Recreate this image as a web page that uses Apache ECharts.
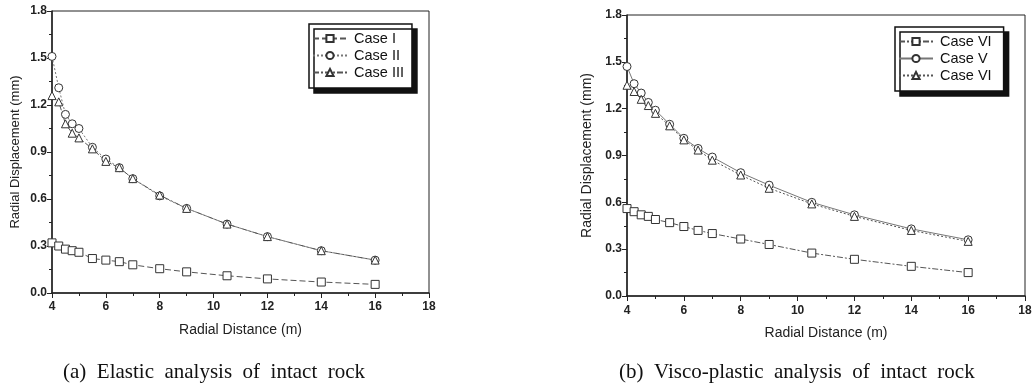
<!DOCTYPE html>
<html>
<head>
<meta charset="utf-8">
<script src="https://cdn.jsdelivr.net/npm/echarts@6/dist/echarts.min.js"></script>
<style>
  html, body { margin: 0; padding: 0; background: #fff; }
  #chart { width: 1036px; height: 387px; }
</style>
</head>
<body>
<div id="chart"></div>
<script>
// radial distance (m) of the computed points
const radialDistance = [4, 4.25, 4.5, 4.75, 5, 5.5, 6, 6.5, 7, 8, 9, 10.5, 12, 14, 16];

// (a) elastic analysis
const caseI   = [0.32, 0.30, 0.28, 0.27, 0.26, 0.22, 0.21, 0.20, 0.18, 0.155, 0.135, 0.11, 0.09, 0.07, 0.055];
const caseII  = [1.51, 1.31, 1.14, 1.08, 1.05, 0.93, 0.855, 0.80, 0.73, 0.62, 0.54, 0.44, 0.36, 0.27, 0.21];
const caseIII = [1.26, 1.22, 1.08, 1.02, 0.99, 0.92, 0.84, 0.80, 0.73, 0.625, 0.54, 0.44, 0.36, 0.27, 0.21];

// (b) visco-plastic analysis
const caseVIa = [0.56, 0.54, 0.52, 0.51, 0.49, 0.47, 0.445, 0.42, 0.40, 0.365, 0.33, 0.275, 0.235, 0.19, 0.15];
const caseV   = [1.47, 1.36, 1.30, 1.24, 1.19, 1.10, 1.01, 0.945, 0.89, 0.79, 0.71, 0.60, 0.52, 0.43, 0.36];
const caseVIb = [1.35, 1.31, 1.26, 1.22, 1.17, 1.09, 1.00, 0.935, 0.87, 0.775, 0.69, 0.59, 0.51, 0.42, 0.35];

const captions = ['(a)  Elastic  analysis  of  intact  rock', '(b)  Visco-plastic  analysis  of  intact  rock'];

const pairs = (ys) => radialDistance.map((x, i) => [x, ys[i]]);

const ink = '#222';
const lineGrey = '#555';

function xAxisFor(gridIndex, gap, labelMargin) {
  return {
    type: 'value', gridIndex, min: 4, max: 18, interval: 2,
    name: 'Radial Distance (m)', nameLocation: 'middle', nameGap: gap,
    nameTextStyle: { fontFamily: 'Liberation Sans', fontSize: 14, color: ink },
    axisLine: { lineStyle: { color: ink, width: 1.5 } },
    axisTick: { length: 5, lineStyle: { color: ink } },
    minorTick: { show: true, splitNumber: 2, length: 3, lineStyle: { color: ink } },
    axisLabel: { fontFamily: 'Liberation Sans', fontWeight: 'bold', fontSize: 12, color: ink, margin: labelMargin },
    splitLine: { show: false }
  };
}

function yAxisFor(gridIndex, gap, nameSize) {
  return {
    type: 'value', gridIndex, min: 0, max: 1.8, interval: 0.3,
    name: 'Radial Displacement (mm)', nameLocation: 'middle', nameGap: gap,
    nameTextStyle: { fontFamily: 'Liberation Sans', fontSize: nameSize, color: ink },
    axisLine: { lineStyle: { color: ink, width: 1.5 } },
    axisTick: { length: 5, lineStyle: { color: ink } },
    minorTick: { show: true, splitNumber: 2, length: 3, lineStyle: { color: ink } },
    axisLabel: {
      fontFamily: 'Liberation Sans', fontWeight: 'bold', fontSize: 12, color: ink, margin: 5,
      formatter: v => v.toFixed(1)
    },
    splitLine: { show: false }
  };
}

function lineSeries(name, data, idx, symbol, type, color) {
  return {
    name, type: 'line', xAxisIndex: idx, yAxisIndex: idx,
    data: pairs(data), symbol, symbolSize: 8,
    lineStyle: { color: color || lineGrey, width: 1, type },
    itemStyle: { color: '#fff', borderColor: '#333', borderWidth: 1 },
    emphasis: { disabled: true },
    z: 3
  };
}

function legendFor(names, left, top) {
  return {
    data: names, orient: 'vertical', left, top,
    itemWidth: 34, itemHeight: 9, itemGap: 2,
    padding: [7, 8, 8, 3],
    backgroundColor: '#fff', borderColor: '#111', borderWidth: 1.5, borderRadius: 0,
    shadowColor: '#111', shadowBlur: 0, shadowOffsetX: 5, shadowOffsetY: 5,
    textStyle: { fontFamily: 'Liberation Sans', fontSize: 14.5, color: '#111', padding: [0, 0, 0, 2] },
    selectedMode: false
  };
}

const chart = echarts.init(document.getElementById('chart'));

chart.setOption({
  animation: false,
  backgroundColor: '#fff',
  grid: [
    { left: 52, top: 11, width: 377, height: 282, show: true, borderColor: ink, borderWidth: 1, backgroundColor: 'transparent' },
    { left: 627, top: 15, width: 398, height: 281, show: true, borderColor: ink, borderWidth: 1, backgroundColor: 'transparent' }
  ],
  xAxis: [xAxisFor(0, 30, 8), xAxisFor(1, 30, 9)],
  yAxis: [yAxisFor(0, 30, 13), yAxisFor(1, 33, 14)],
  legend: [
    legendFor(['Case I', 'Case II', 'Case III'], 309, 24),
    legendFor(['Case VI', 'Case V', 'Case VI '], 895, 27)
  ],
  series: [
    lineSeries('Case I', caseI, 0, 'rect', [6, 3]),
    lineSeries('Case II', caseII, 0, 'circle', [2, 2], '#777'),
    lineSeries('Case III', caseIII, 0, 'triangle', [6, 2, 2, 2]),
    lineSeries('Case VI', caseVIa, 1, 'rect', [6, 2, 2, 2]),
    lineSeries('Case V', caseV, 1, 'circle', 'solid', '#777'),
    lineSeries('Case VI ', caseVIb, 1, 'triangle', [2, 2])
  ],
  graphic: [
    { type: 'text', left: 63, top: 362, style: { text: captions[0], font: '21px "Liberation Serif"', fill: '#111' } },
    { type: 'text', left: 619, top: 362, style: { text: captions[1], font: '21px "Liberation Serif"', fill: '#111' } }
  ]
});
</script>
</body>
</html>
